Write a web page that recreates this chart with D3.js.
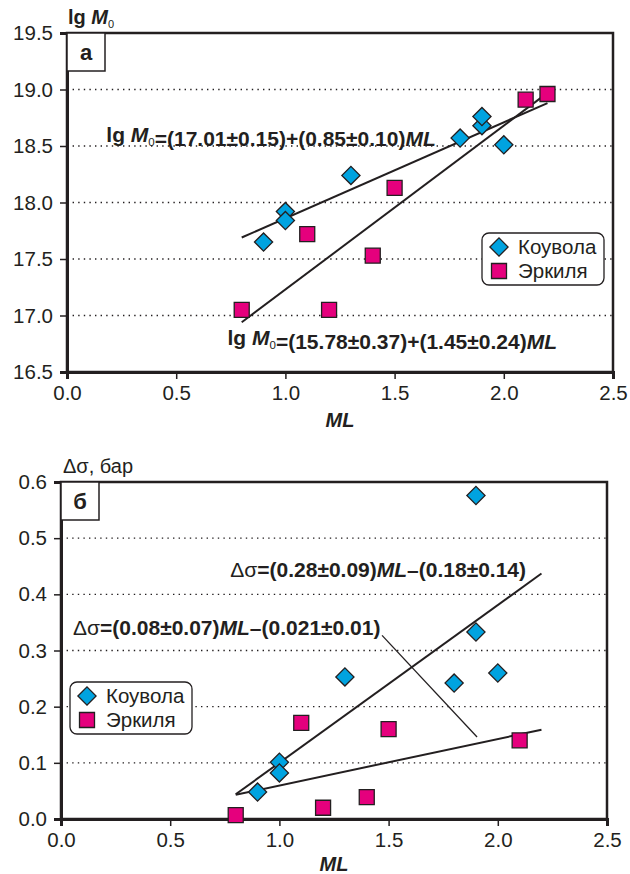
<!DOCTYPE html>
<html>
<head>
<meta charset="utf-8">
<script src="https://cdn.jsdelivr.net/npm/d3@7"></script>
<style>
  body { margin: 0; background: #fff; }
  text { font-family: "Liberation Sans", Arial, sans-serif; fill: #231f20; }
</style>
</head>
<body>
<div id="viz"></div>
<script>
/* global d3 */
(function seismicCharts() {
  const svgWidth = 630;
  const svgHeight = 874;

  const inkColor = '#231f20';
  const kouvolaColor = '#00a3e0';
  const erkilyaColor = '#e5007d';

  const seriesNames = ['Коувола', 'Эркиля'];
  const mlTicks = [0, 0.5, 1, 1.5, 2, 2.5];
  const momentTicks = [16.5, 17, 17.5, 18, 18.5, 19, 19.5];
  const stressTicks = [0, 0.1, 0.2, 0.3, 0.4, 0.5, 0.6];

  // panel a: lg M0 vs ML
  const momentKouvola = [
    { ml: 0.9, v: 17.65 }, { ml: 1.0, v: 17.92 }, { ml: 1.0, v: 17.84 }, { ml: 1.3, v: 18.24 },
    { ml: 1.8, v: 18.57 }, { ml: 1.9, v: 18.68 }, { ml: 1.9, v: 18.76 }, { ml: 2.0, v: 18.51 },
  ];
  const momentErkilya = [
    { ml: 0.8, v: 17.05 }, { ml: 1.1, v: 17.72 }, { ml: 1.2, v: 17.05 }, { ml: 1.4, v: 17.53 },
    { ml: 1.5, v: 18.13 }, { ml: 2.1, v: 18.91 }, { ml: 2.2, v: 18.96 },
  ];
  const momentFits = [
    { x1: 0.8, y1: 17.69, x2: 2.2, y2: 18.88 },
    { x1: 0.8, y1: 16.94, x2: 2.2, y2: 18.97 },
  ];

  // panel б: stress drop vs ML
  const stressKouvola = [
    { ml: 0.9, v: 0.048 }, { ml: 1.0, v: 0.101 }, { ml: 1.0, v: 0.082 }, { ml: 1.3, v: 0.253 },
    { ml: 1.8, v: 0.242 }, { ml: 1.9, v: 0.333 }, { ml: 1.9, v: 0.576 }, { ml: 2.0, v: 0.26 },
  ];
  const stressErkilya = [
    { ml: 0.8, v: 0.007 }, { ml: 1.1, v: 0.171 }, { ml: 1.2, v: 0.02 }, { ml: 1.4, v: 0.039 },
    { ml: 1.5, v: 0.16 }, { ml: 2.1, v: 0.14 },
  ];
  const stressFits = [
    { x1: 0.8, y1: 0.044, x2: 2.2, y2: 0.437 },
    { x1: 0.8, y1: 0.043, x2: 2.2, y2: 0.159 },
  ];
  const stressLeader = { x1: 1.47, y1: 0.327, x2: 1.905, y2: 0.146 };

  // equation labels: [text, weight, style]
  const momentEq1 = [['lg ', 'bold'], ['M', 'bold', 'italic'], ['0', 'sub'], ['=(17.01±0.15)+(0.85±0.10)', 'bold'], ['ML', 'bold', 'italic']];
  const momentEq2 = [['lg ', 'bold'], ['M', 'bold', 'italic'], ['0', 'sub'], ['=(15.78±0.37)+(1.45±0.24)', 'bold'], ['ML', 'bold', 'italic']];
  const stressEq1 = [['Δσ', 'normal'], ['=(0.28±0.09)', 'bold'], ['ML', 'bold', 'italic'], ['–(0.18±0.14)', 'bold']];
  const stressEq2 = [['Δσ', 'normal'], ['=(0.08±0.07)', 'bold'], ['ML', 'bold', 'italic'], ['–(0.021±0.01)', 'bold']];
  const momentTitle = [['lg ', 'bold'], ['M', 'bold', 'italic'], ['0', 'sub']];
  const stressTitle = [['Δσ, бар', 'normal']];

  const svg = d3.select('#viz').append('svg')
    .attr('width', svgWidth)
    .attr('height', svgHeight);

  function richText(sel, parts, size) {
    parts.forEach((p) => {
      const t = sel.append('tspan').text(p[0]);
      if (p[1] === 'sub') {
        t.attr('font-size', size * 0.55).attr('dy', 4).attr('font-weight', 'normal');
        sel.append('tspan').attr('dy', -4).text('');
      } else {
        t.attr('font-weight', p[1]).attr('font-style', p[2] || 'normal');
      }
    });
    return sel;
  }

  function drawPanel(cfg) {
    const x = d3.scaleLinear().domain([0, 2.5]).range([cfg.left, cfg.right]);
    const y = d3.scaleLinear().domain(cfg.yDomain).range([cfg.bottom, cfg.top]);
    const g = svg.append('g').attr('class', cfg.name);

    // dotted grid
    g.append('g').selectAll('line')
      .data(cfg.yTicks.slice(1, -1))
      .enter()
      .append('line')
      .attr('x1', cfg.left)
      .attr('x2', cfg.right)
      .attr('y1', d => y(d))
      .attr('y2', d => y(d))
      .attr('stroke', inkColor)
      .attr('stroke-width', 1.4)
      .attr('stroke-dasharray', '1.4,4.2');

    // frame
    g.append('rect')
      .attr('x', cfg.left)
      .attr('y', cfg.top)
      .attr('width', cfg.right - cfg.left)
      .attr('height', cfg.bottom - cfg.top)
      .attr('fill', 'none')
      .attr('stroke', inkColor)
      .attr('stroke-width', 2.5);

    const yAxis = g.append('g')
      .attr('transform', `translate(${cfg.left},0)`)
      .call(d3.axisLeft(y).tickValues(cfg.yTicks).tickFormat(d3.format('.1f')).tickSize(7).tickPadding(7));
    const xAxis = g.append('g')
      .attr('transform', `translate(0,${cfg.bottom})`)
      .call(d3.axisBottom(x).tickValues(mlTicks).tickFormat(d3.format('.1f')).tickSize(7).tickPadding(6));
    [yAxis, xAxis].forEach((a) => {
      a.select('.domain').attr('stroke', inkColor).attr('stroke-width', 3);
      a.selectAll('.tick line').attr('stroke', inkColor).attr('stroke-width', 1.5);
      a.selectAll('.tick text')
        .attr('font-size', 20.5)
        .style('font-family', '"Liberation Sans", Arial, sans-serif')
        .attr('fill', inkColor);
    });

    // axis titles
    richText(g.append('text')
      .attr('x', cfg.left + cfg.titleDx)
      .attr('y', cfg.top - 9)
      .attr('font-size', 20), cfg.title, 20);
    g.append('text')
      .attr('x', x(1.25))
      .attr('y', cfg.bottom + cfg.mlDy)
      .attr('text-anchor', 'middle')
      .attr('font-size', 20)
      .attr('font-weight', 'bold')
      .attr('font-style', 'italic')
      .text('ML');

    // panel letter
    g.append('rect')
      .attr('x', cfg.left)
      .attr('y', cfg.top)
      .attr('width', 38)
      .attr('height', 38)
      .attr('fill', '#fff')
      .attr('stroke', inkColor)
      .attr('stroke-width', 1.5);
    g.append('text')
      .attr('x', cfg.left + 19)
      .attr('y', cfg.top + 27)
      .attr('text-anchor', 'middle')
      .attr('font-size', 22)
      .attr('font-weight', 'bold')
      .text(cfg.letter);

    // regression lines
    g.append('g').selectAll('line')
      .data(cfg.fits)
      .enter()
      .append('line')
      .attr('x1', d => x(d.x1))
      .attr('y1', d => y(d.y1))
      .attr('x2', d => x(d.x2))
      .attr('y2', d => y(d.y2))
      .attr('stroke', inkColor)
      .attr('stroke-width', 2);

    if (cfg.leader) {
      g.append('line')
        .attr('x1', x(cfg.leader.x1))
        .attr('y1', y(cfg.leader.y1))
        .attr('x2', x(cfg.leader.x2))
        .attr('y2', y(cfg.leader.y2))
        .attr('stroke', inkColor)
        .attr('stroke-width', 1.3);
    }

    // points
    const diamond = d3.symbol().type(d3.symbolSquare).size(165);
    const square = d3.symbol().type(d3.symbolSquare).size(225);
    g.append('g').selectAll('path')
      .data(cfg.kouvola)
      .enter()
      .append('path')
      .attr('d', diamond)
      .attr('transform', d => `translate(${x(d.ml)},${y(d.v)}) rotate(45)`)
      .attr('fill', kouvolaColor)
      .attr('stroke', inkColor)
      .attr('stroke-width', 1.3);
    g.append('g').selectAll('path')
      .data(cfg.erkilya)
      .enter()
      .append('path')
      .attr('d', square)
      .attr('transform', d => `translate(${x(d.ml)},${y(d.v)})`)
      .attr('fill', erkilyaColor)
      .attr('stroke', inkColor)
      .attr('stroke-width', 1.3);

    // equations
    cfg.equations.forEach((eq) => {
      richText(g.append('text')
        .attr('x', x(eq.x))
        .attr('y', y(eq.y))
        .attr('font-size', 21), eq.parts, 21);
    });

    // legend
    const lg = g.append('g').attr('transform', `translate(${cfg.legend[0]},${cfg.legend[1]})`);
    lg.append('rect')
      .attr('width', 122)
      .attr('height', 52)
      .attr('rx', 7)
      .attr('fill', '#fff')
      .attr('stroke', inkColor)
      .attr('stroke-width', 1.3);
    lg.append('path')
      .attr('d', diamond)
      .attr('transform', 'translate(17,14) rotate(45)')
      .attr('fill', kouvolaColor)
      .attr('stroke', inkColor)
      .attr('stroke-width', 1.3);
    lg.append('path')
      .attr('d', square)
      .attr('transform', 'translate(17,38)')
      .attr('fill', erkilyaColor)
      .attr('stroke', inkColor)
      .attr('stroke-width', 1.3);
    lg.selectAll('text.entry')
      .data(seriesNames)
      .enter()
      .append('text')
      .attr('class', 'entry')
      .attr('x', 36)
      .attr('y', (d, i) => 21 + i * 24)
      .attr('font-size', 20.5)
      .text(d => d);
  }

  drawPanel({
    name: 'panel-a',
    left: 67, right: 613, top: 33, bottom: 372,
    yDomain: [16.5, 19.5],
    yTicks: momentTicks,
    title: momentTitle,
    titleDx: 1,
    mlDy: 55,
    letter: 'а',
    kouvola: momentKouvola,
    erkilya: momentErkilya,
    fits: momentFits,
    equations: [
      { x: 0.18, y: 18.535, parts: momentEq1 },
      { x: 0.735, y: 16.74, parts: momentEq2 },
    ],
    legend: [482, 233],
  });

  drawPanel({
    name: 'panel-b',
    left: 61, right: 607, top: 482, bottom: 819,
    yDomain: [0, 0.6],
    yTicks: stressTicks,
    title: stressTitle,
    titleDx: 2,
    mlDy: 52,
    letter: 'б',
    kouvola: stressKouvola,
    erkilya: stressErkilya,
    fits: stressFits,
    leader: stressLeader,
    equations: [
      { x: 0.775, y: 0.431, parts: stressEq1 },
      { x: 0.055, y: 0.327, parts: stressEq2 },
    ],
    legend: [70, 682],
  });
}());
</script>
</body>
</html>
